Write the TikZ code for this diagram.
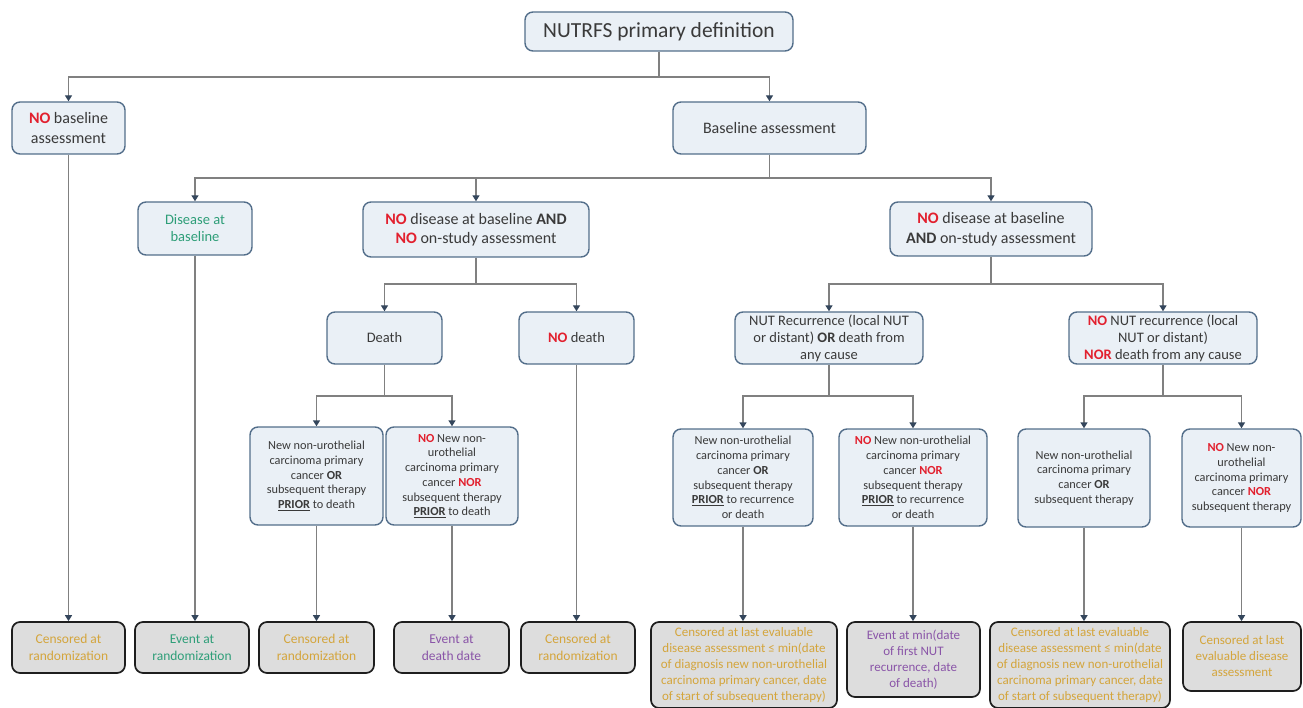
\documentclass[tikz,border=0pt]{standalone}
\usepackage{fontspec}
\setmainfont{Carlito}
\usetikzlibrary{arrows.meta}
\definecolor{bfill}{HTML}{EAF0F6}
\definecolor{bdraw}{HTML}{536E8A}
\definecolor{ffill}{HTML}{DDDDDD}
\definecolor{fdraw}{HTML}{1E1E1E}
\definecolor{txt}{HTML}{3A3A3A}
\definecolor{nored}{HTML}{E2202E}
\definecolor{grn}{HTML}{2E9E78}
\definecolor{gold}{HTML}{D4A53C}
\definecolor{purp}{HTML}{8A55A8}
\definecolor{lnc}{HTML}{808080}
\definecolor{arc}{HTML}{34465C}
\newcommand{\NOr}{\textbf{\textcolor{nored}{NO}}}
\newcommand{\NORr}{\textbf{\textcolor{nored}{NOR}}}
\newcommand{\PRIORu}{\underline{\textbf{PRIOR}}}
\tikzset{
 bx/.style={draw=bdraw, fill=bfill, rounded corners=8pt, line width=1.4pt, align=center, text=txt, inner sep=1pt},
 fbx/.style={draw=fdraw, fill=ffill, rounded corners=8pt, line width=1.7pt, align=center, inner sep=1pt},
 ln/.style={draw=lnc, line width=1.4pt},
 arr/.style={ln, -{Triangle[width=7pt,length=6pt,color=arc]}},
 fL/.style={font=\fontsize{21.5}{25}\selectfont},
 fA/.style={font=\fontsize{16}{19.5}\selectfont},
 fB/.style={font=\fontsize{14.5}{17}\selectfont},
 fC/.style={font=\fontsize{12.3}{14.7}\selectfont},
 fD/.style={font=\fontsize{13.5}{16.5}\selectfont},
 fE/.style={font=\fontsize{13}{16}\selectfont},
}
\begin{document}
\begin{tikzpicture}[x=1pt,y=-1pt]
\path[use as bounding box] (0,0) rectangle (1303,708);
\clip (0,0) rectangle (1303,708);
% level 0-1
\node[bx,fL,minimum width=268pt,minimum height=39pt] (top) at (659,31.5) {NUTRFS primary definition};
\node[bx,fA,minimum width=113pt,minimum height=52pt] (nobase) at (68.5,128) {\NOr{} baseline\\assessment};
\node[bx,fA,minimum width=193pt,minimum height=52pt] (base) at (769.5,128) {Baseline assessment};
% level 2
\node[bx,fB,text=grn,minimum width=114pt,minimum height=53pt] (dis) at (195,228.5) {Disease at\\baseline};
\node[bx,fA,minimum width=226pt,minimum height=55pt] (nd1) at (476,229.5) {\NOr{} disease at baseline \textbf{AND}\\\NOr{} on-study assessment};
\node[bx,fA,minimum width=202pt,minimum height=54pt] (nd2) at (991,229) {\NOr{} disease at baseline\\\textbf{AND} on-study assessment};
% level 3
\node[bx,fB,minimum width=115pt,minimum height=52pt] (death) at (384.5,338) {Death};
\node[bx,fB,minimum width=115pt,minimum height=52pt] (nodeath) at (576.5,338) {\NOr{} death};
\node[bx,fB,minimum width=188pt,minimum height=52pt] (rec) at (829,338) {NUT Recurrence (local NUT\\or distant) \textbf{OR} death from\\any cause};
\node[bx,fB,minimum width=188pt,minimum height=52pt] (norec) at (1163,338) {\NOr{} NUT recurrence (local\\NUT or distant)\\\NORr{} death from any cause};
% level 4
\node[bx,fC,minimum width=133pt,minimum height=98pt] (a1) at (316.5,476) {New non-urothelial\\carcinoma primary\\cancer \textbf{OR}\\subsequent therapy\\\PRIORu{} to death};
\node[bx,fC,minimum width=132pt,minimum height=98pt] (a2) at (452,476) {\NOr{} New non-\\urothelial\\carcinoma primary\\cancer \NORr\\subsequent therapy\\\PRIORu{} to death};
\node[bx,fC,minimum width=140pt,minimum height=97pt] (b1) at (743,477.5) {New non-urothelial\\carcinoma primary\\cancer \textbf{OR}\\subsequent therapy\\\PRIORu{} to recurrence\\or death};
\node[bx,fC,minimum width=148pt,minimum height=97pt] (b2) at (913,477.5) {\NOr{} New non-urothelial\\carcinoma primary\\cancer \NORr\\subsequent therapy\\\PRIORu{} to recurrence\\or death};
\node[bx,fC,minimum width=132pt,minimum height=98pt] (b3) at (1084,478) {New non-urothelial\\carcinoma primary\\cancer \textbf{OR}\\subsequent therapy};
\node[bx,fC,minimum width=119pt,minimum height=98pt] (b4) at (1241.5,478) {\NOr{} New non-\\urothelial\\carcinoma primary\\cancer \NORr\\subsequent therapy};
% bottom
\node[fbx,fD,text=gold,minimum width=113pt,minimum height=51pt] (c1) at (68.5,647.5) {Censored at\\randomization};
\node[fbx,fD,text=grn,minimum width=114pt,minimum height=51pt] (c2) at (192,647.5) {Event at\\randomization};
\node[fbx,fD,text=gold,minimum width=115pt,minimum height=51pt] (c3) at (316.5,647.5) {Censored at\\randomization};
\node[fbx,fD,text=purp,minimum width=115pt,minimum height=51pt] (c4) at (451.5,647.5) {Event at\\death date};
\node[fbx,fD,text=gold,minimum width=114pt,minimum height=51pt] (c5) at (578,647.5) {Censored at\\randomization};
\node[fbx,fE,text=gold,minimum width=186pt,minimum height=86pt] (c6) at (744,665) {Censored at last evaluable\\disease assessment ≤ min(date\\of diagnosis new non-urothelial\\carcinoma primary cancer, date\\of start of subsequent therapy)};
\node[fbx,fE,text=purp,minimum width=133pt,minimum height=75pt] (c7) at (913.5,659.5) {Event at min(date\\of first NUT\\recurrence, date\\of death)};
\node[fbx,fE,text=gold,minimum width=180pt,minimum height=86pt] (c8) at (1080,665) {Censored at last evaluable\\disease assessment ≤ min(date\\of diagnosis new non-urothelial\\carcinoma primary cancer, date\\of start of subsequent therapy)};
\node[fbx,fE,text=gold,minimum width=118pt,minimum height=69pt] (c9) at (1242,656.5) {Censored at last\\evaluable disease\\assessment};
% junction levels
\coordinate (h1) at (0,77);
\coordinate (h2) at (0,178);
\coordinate (h3) at (0,284);
\coordinate (h4) at (0,396);
% connectors
\draw[ln] (top.south) -- (top.south |- h1);
\draw[arr] (top.south |- h1) -| (nobase.north);
\draw[arr] (top.south |- h1) -| (base.north);
\draw[ln] (base.south) -- (base.south |- h2);
\draw[arr] (base.south |- h2) -| (dis.north);
\draw[arr] (base.south |- h2) -| (nd1.north);
\draw[arr] (base.south |- h2) -| (nd2.north);
\draw[ln] (nd1.south) -- (nd1.south |- h3);
\draw[arr] (nd1.south |- h3) -| (death.north);
\draw[arr] (nd1.south |- h3) -| (nodeath.north);
\draw[ln] (nd2.south) -- (nd2.south |- h3);
\draw[arr] (nd2.south |- h3) -| (rec.north);
\draw[arr] (nd2.south |- h3) -| (norec.north);
\draw[ln] (death.south) -- (death.south |- h4);
\draw[arr] (death.south |- h4) -| (a1.north);
\draw[arr] (death.south |- h4) -| (a2.north);
\draw[ln] (rec.south) -- (rec.south |- h4);
\draw[arr] (rec.south |- h4) -| (b1.north);
\draw[arr] (rec.south |- h4) -| (b2.north);
\draw[ln] (norec.south) -- (norec.south |- h4);
\draw[arr] (norec.south |- h4) -| (b3.north);
\draw[arr] (norec.south |- h4) -| (b4.north);
% long verticals
\draw[arr] (nobase.south) -- (nobase.south |- c1.north);
\draw[arr] (dis.south) -- (dis.south |- c2.north);
\draw[arr] (a1.south) -- (a1.south |- c3.north);
\draw[arr] (a2.south) -- (a2.south |- c4.north);
\draw[arr] (nodeath.south) -- (nodeath.south |- c5.north);
\draw[arr] (b1.south) -- (b1.south |- c6.north);
\draw[arr] (b2.south) -- (b2.south |- c7.north);
\draw[arr] (b3.south) -- (b3.south |- c8.north);
\draw[arr] (b4.south) -- (b4.south |- c9.north);
\end{tikzpicture}
\end{document}
